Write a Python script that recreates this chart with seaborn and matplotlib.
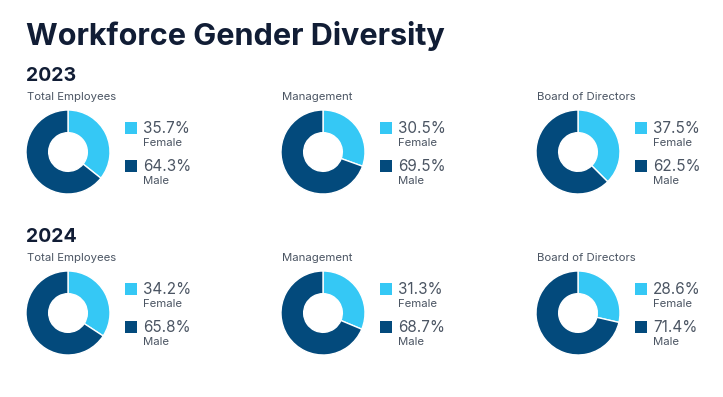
import matplotlib
matplotlib.use("Agg")
import matplotlib.pyplot as plt
from matplotlib.patches import Rectangle
import seaborn as sns

# chart values
years = ["2023", "2024"]
groups = ["Total Employees", "Management", "Board of Directors"]
female = {"2023": [35.7, 30.5, 37.5], "2024": [34.2, 31.3, 28.6]}
male = {"2023": [64.3, 69.5, 62.5], "2024": [65.8, 68.7, 71.4]}
labels = ["Female", "Male"]

sns.set_theme(style="white")
plt.rcParams['font.family'] = ['Inter', 'DejaVu Sans']
colors = sns.color_palette(["#35C8F5", "#034A7C"])

W, H = 723, 397
fig = plt.figure(figsize=(W / 100, H / 100), dpi=100)
fig.patch.set_facecolor("white")

def fx(x):
    return x / W

def fy(y):
    return 1 - y / H

dark = "#111d35"
grey = "#4b5563"

fig.text(fx(26), fy(45), "Workforce Gender Diversity", fontsize=22, fontweight="bold",
         color=dark, va="baseline", ha="left")

for r, year in enumerate(years):
    dy = r * 161
    fig.text(fx(26), fy(81 + dy), year, fontsize=14, fontweight="bold", color=dark,
             va="baseline", ha="left")
    for c, grp in enumerate(groups):
        dx = c * 255
        fig.text(fx(27 + dx), fy(100 + dy), grp, fontsize=8.2, color=grey,
                 va="baseline", ha="left")
        # donut
        cx, cy, rad = 68 + dx, 152 + dy, 42
        ax = fig.add_axes([fx(cx - rad), fy(cy + rad), 2 * rad / W, 2 * rad / H])
        vals = [female[year][c], male[year][c]]
        ax.pie(vals, colors=colors, startangle=90, counterclock=False,
               wedgeprops=dict(width=0.54, edgecolor="white", linewidth=1))
        ax.set_xlim(-1, 1)
        ax.set_ylim(-1, 1)
        ax.set_axis_off()
        # legend entries
        for k, (lab, v) in enumerate(zip(labels, vals)):
            ky = 122 + k * 38 + dy
            fig.add_artist(Rectangle((fx(125 + dx), fy(ky + 12)), 12 / W, 12 / H,
                                     transform=fig.transFigure, color=colors[k], lw=0))
            fig.text(fx(143 + dx), fy(ky + 11), f"{v:.1f}%", fontsize=11, color=grey,
                     va="baseline", ha="left")
            fig.text(fx(143 + dx), fy(ky + 24), lab, fontsize=8.2, color=grey,
                     va="baseline", ha="left")

fig.savefig("out.png", dpi=100, facecolor="white")
